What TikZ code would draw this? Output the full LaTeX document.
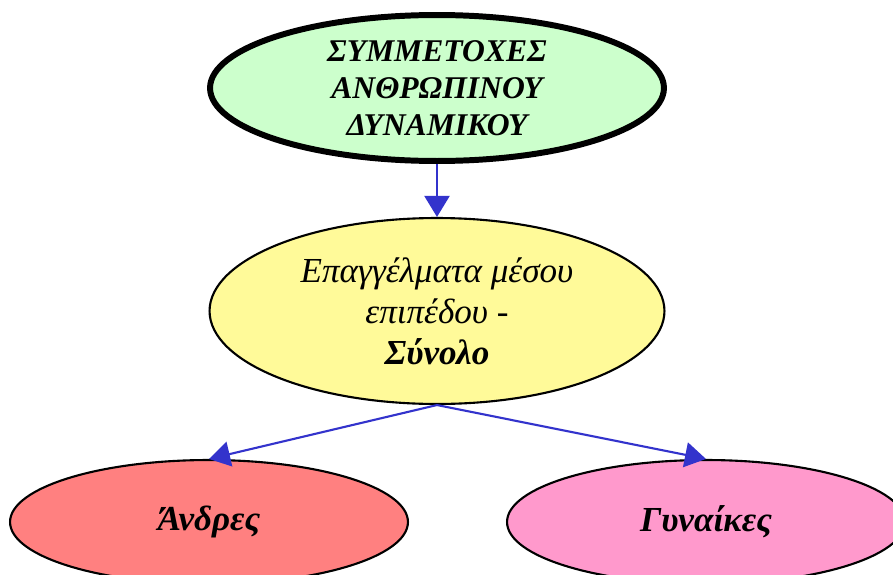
\documentclass[tikz,border=0pt]{standalone}
\usepackage{fontspec}
\setmainfont{Liberation Serif}
\usetikzlibrary{shapes.geometric,arrows.meta}
\definecolor{edgeblue}{RGB}{51,51,204}
\definecolor{pinkfill}{RGB}{255,153,204}
\begin{document}
\begin{tikzpicture}[x=0.02cm, y=-0.02cm, every node/.style={font=\itshape}]
  \tikzstyle{bubble}=[draw,ellipse,inner sep=0pt,align=center,line width=1.2pt]
  \tikzstyle{link}=[draw=edgeblue,line width=1.2pt,-{Triangle[length=0.42cm,width=0.5cm,fill=edgeblue]}]
  \useasboundingbox (0,0) rectangle (893,575);
  \node[bubble,line width=3.4pt,fill=green!20,minimum width=9.08cm,minimum height=2.92cm,font=\fontsize{18}{21}\selectfont\itshape\bfseries] (top) at (437,88) {ΣΥΜΜΕΤΟΧΕΣ\\ΑΝΘΡΩΠΙΝΟΥ\\ΔΥΝΑΜΙΚΟΥ};
  \node[bubble,fill=yellow!40,minimum width=9.1cm,minimum height=3.72cm,font=\fontsize{20}{23.3}\selectfont\itshape] (mid) at (437,311) {Επαγγέλματα μέσου\\επιπέδου -\\\textbf{Σύνολο}};
  \node[bubble,fill=red!50,minimum width=7.96cm,minimum height=2.48cm,font=\fontsize{20}{23}\selectfont\itshape\bfseries] (men) at (209,522) {Άνδρες};
  \node[bubble,fill=pinkfill,minimum width=7.96cm,minimum height=2.48cm,font=\fontsize{20}{23}\selectfont\itshape\bfseries] (women) at (706,522) {Γυναίκες};
  \draw[link] (top) -- (mid);
  \draw[link] (mid.south) -- (men.north);
  \draw[link] (mid.south) -- (women.north);
\end{tikzpicture}
\end{document}
